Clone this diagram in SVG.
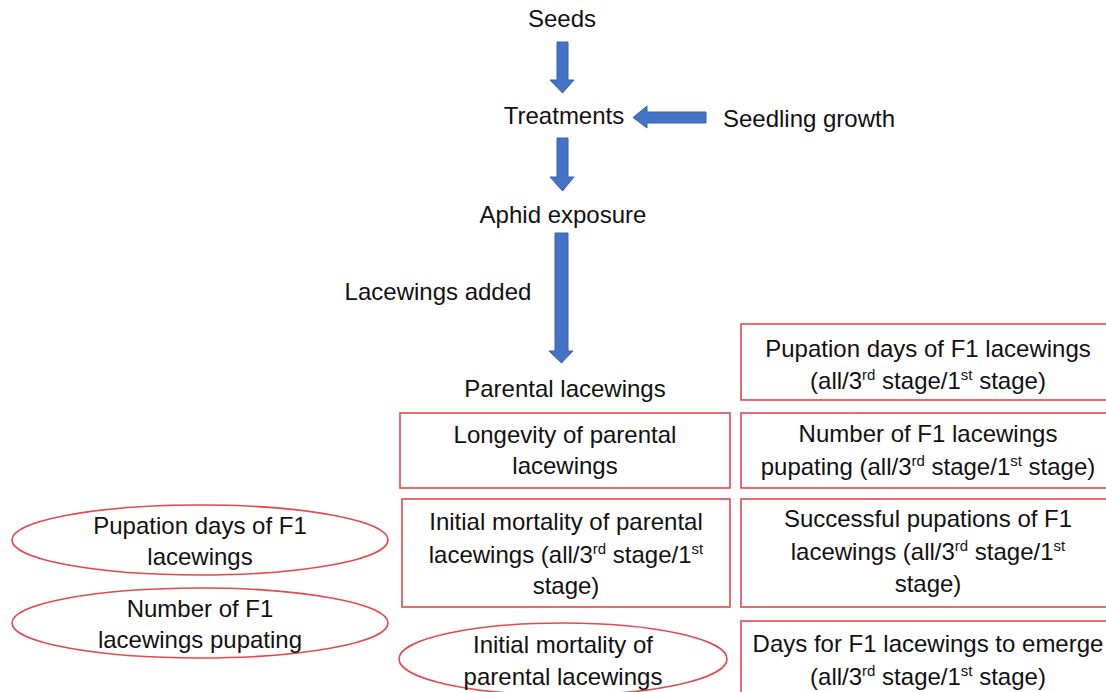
<svg xmlns="http://www.w3.org/2000/svg" width="1106" height="692" viewBox="0 0 1106 692">
<style>
text{font-family:"Liberation Sans",Arial,sans-serif;font-size:24px;fill:#111;text-anchor:middle}
.sup{font-size:15px}
.box{fill:#fff;stroke:#E5484D;stroke-width:1.6}
.arr{fill:#4472C4;stroke:#3A62AA;stroke-width:1}
</style>
<rect width="1106" height="692" fill="#fff"/>
<g id="connectors">
<path class="arr" d="M557,42 H568 V80 H574 L562.5,93 L550,80 H557 Z"/>
<path class="arr" d="M557,138 H568 V177 H574 L562.5,191 L550,177 H557 Z"/>
<path class="arr" d="M555,233 H568 V351 H573 L561.5,363 L549,351 H555 Z"/>
<path class="arr" d="M706,112 V123 H647 V128 L633,117.5 L647,106 V112 Z"/>
</g>
<g id="seeds"><text x="562" y="27">Seeds</text></g>
<g id="treatments"><text x="564" y="124">Treatments</text></g>
<g id="seedling"><text x="809" y="127">Seedling growth</text></g>
<g id="aphid"><text x="563" y="223">Aphid exposure</text></g>
<g id="added"><text x="438" y="300">Lacewings added</text></g>
<g id="parental"><text x="565" y="397">Parental lacewings</text></g>
<g id="r1"><rect class="box" x="741" y="324" width="380" height="76"/>
<text x="928" y="357">Pupation days of F1 lacewings</text>
<text x="928" y="389">(all/3<tspan class="sup" dy="-9">rd</tspan><tspan dy="9"> stage/1</tspan><tspan class="sup" dy="-9">st</tspan><tspan dy="9"> stage)</tspan></text></g>
<g id="r2"><rect class="box" x="741" y="413" width="380" height="75"/>
<text x="928" y="442">Number of F1 lacewings</text>
<text x="928" y="475">pupating (all/3<tspan class="sup" dy="-9">rd</tspan><tspan dy="9"> stage/1</tspan><tspan class="sup" dy="-9">st</tspan><tspan dy="9"> stage)</tspan></text></g>
<g id="r3"><rect class="box" x="741" y="499" width="380" height="108"/>
<text x="928" y="527">Successful pupations of F1</text>
<text x="928" y="560">lacewings (all/3<tspan class="sup" dy="-9">rd</tspan><tspan dy="9"> stage/1</tspan><tspan class="sup" dy="-9">st</tspan></text>
<text x="928" y="592">stage)</text></g>
<g id="r4"><rect class="box" x="741" y="621" width="380" height="90"/>
<text x="928" y="652">Days for F1 lacewings to emerge</text>
<text x="928" y="685">(all/3<tspan class="sup" dy="-9">rd</tspan><tspan dy="9"> stage/1</tspan><tspan class="sup" dy="-9">st</tspan><tspan dy="9"> stage)</tspan></text></g>
<g id="m1"><rect class="box" x="400" y="413" width="330" height="75"/>
<text x="565" y="443">Longevity of parental</text>
<text x="565" y="474">lacewings</text></g>
<g id="m2"><rect class="box" x="402" y="499" width="328" height="108"/>
<text x="566" y="530">Initial mortality of parental</text>
<text x="566" y="563">lacewings (all/3<tspan class="sup" dy="-9">rd</tspan><tspan dy="9"> stage/1</tspan><tspan class="sup" dy="-9">st</tspan></text>
<text x="566" y="594">stage)</text></g>
<g id="e1"><ellipse class="box" cx="200" cy="540" rx="188" ry="35"/>
<text x="200" y="534">Pupation days of F1</text>
<text x="200" y="565">lacewings</text></g>
<g id="e2"><ellipse class="box" cx="200" cy="623" rx="188" ry="35"/>
<text x="200" y="617">Number of F1</text>
<text x="200" y="648">lacewings pupating</text></g>
<g id="e3"><ellipse class="box" cx="563" cy="659" rx="164" ry="36"/>
<text x="563" y="653">Initial mortality of</text>
<text x="563" y="685">parental lacewings</text></g>
</svg>
